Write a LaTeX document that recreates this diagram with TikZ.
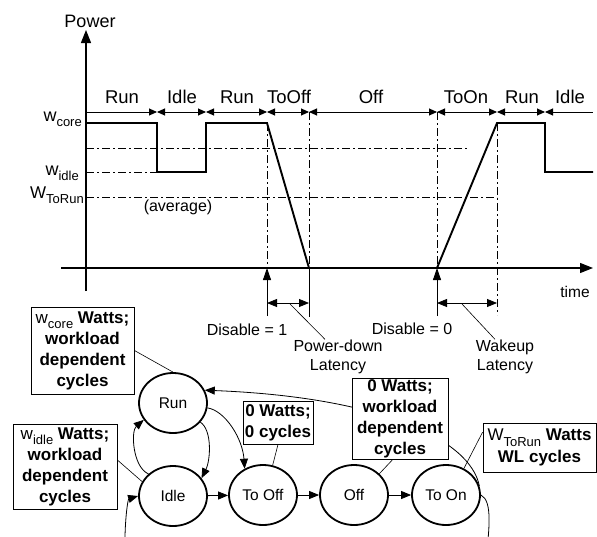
\documentclass[tikz,border=0pt]{standalone}
\usepackage{fontspec}
\setmainfont{Liberation Sans}
\usetikzlibrary{arrows.meta,shapes.geometric}
\newcommand{\wsub}[3]{{\mdseries\fontsize{#1}{#1}\selectfont #2}\raisebox{-5.5pt}{\mdseries\fontsize{13}{13}\selectfont #3}}
\begin{document}
\begin{tikzpicture}[x=1pt,y=-1pt,
  >={Triangle[length=10pt,width=8pt]},
  thinln/.style={line width=0.8pt},
  ax/.style={line width=1.1pt,-{Triangle[length=13pt,width=10pt]}},
  pw/.style={line width=1.9pt,line join=miter},
  dd/.style={line width=0.9pt,dash pattern=on 8pt off 3pt on 2pt off 3pt},
  barln/.style={line width=0.9pt},
  phase/.style={anchor=base,inner sep=0pt,font=\fontsize{18.5}{18.5}\selectfont},
  lbl/.style={inner sep=0pt,align=center,font=\fontsize{16}{19}\selectfont},
  state/.style={ellipse,draw,line width=1.8pt,minimum width=68pt,minimum height=60pt,inner sep=0pt,font=\fontsize{15.5}{15.5}\selectfont},
  note/.style={draw,fill=white,line width=0.9pt,inner sep=0pt,align=center,font=\bfseries\fontsize{17}{21}\selectfont},
  lead/.style={line width=0.6pt},
  trans/.style={line width=0.8pt,->},
]
\fill[white] (0,0) rectangle (597,536);
\useasboundingbox (0,0) rectangle (597,536);
\clip (0,0) rectangle (597,536);

% axes
\coordinate (yb) at (86,291); \coordinate (yt) at (86,30);
\coordinate (xl) at (61,268); \coordinate (xr) at (593,268);
\draw[ax] (yb) -- (yt);
\draw[ax] (xl) -- (xr);
\node[anchor=base,inner sep=0pt,font=\fontsize{18}{18}\selectfont] (power) at (90,27) {Power};
\node[lbl,font=\fontsize{15.5}{15.5}\selectfont] (time) at (575,292) {time};

% phase bar
\draw[barln,-{Triangle[length=8pt,width=7pt]}] (86,112) -- (157,112);
\foreach \a/\b in {157/206,206/267,267/309,309/437,437/497,497/545}
  \draw[barln,{Triangle[length=8pt,width=7pt]}-{Triangle[length=8pt,width=7pt]}] (\a,112) -- (\b,112);
\draw[barln,{Triangle[length=8pt,width=7pt]}-] (545,112) -- (593,112);
\node[phase] (p1) at (122,103) {Run};
\node[phase] (p2) at (182,103) {Idle};
\node[phase] (p3) at (237,103) {Run};
\node[phase] (p4) at (289,103) {ToOff};
\node[phase] (p5) at (371,103) {Off};
\node[phase] (p6) at (466,103) {ToOn};
\node[phase] (p7) at (522,103) {Run};
\node[phase] (p8) at (570,103) {Idle};

% level labels
\node[anchor=base east,inner sep=0pt] (lcore) at (82,121) {\wsub{18}{w}{core}};
\node[anchor=base east,inner sep=0pt] (lidle) at (79,175) {\wsub{18}{w}{idle}};
\node[anchor=base east,inner sep=0pt] (ltorun) at (84,198) {\wsub{17}{W}{ToRun}};

% dash-dot guides
\draw[dd] (86,148) -- (467,148);
\draw[dd] (86,172) -- (157,172);
\draw[dd] (86,197) -- (497,197);
\draw[dd] (267,123) -- (267,268);
\draw[dd] (309,112) -- (309,268);
\draw[dd] (437,112) -- (437,268);
\draw[dd] (497,123) -- (497,315);

% power curve
\draw[pw] (86,123) -- (157,123) -- (157,172) -- (206,172) -- (206,123) -- (267,123)
  -- (309,268) -- (437,268) -- (497,123) -- (545,123) -- (545,172) -- (593,172);
\node[lbl] (avg) at (178,207) {(average)};

% below axis
\draw[thinln,-{Triangle[length=12pt,width=8pt]}] (267,316) -- (267,268);
\draw[thinln] (309,268) -- (309,317);
\draw[thinln,-{Triangle[length=12pt,width=8pt]}] (437,316) -- (437,268);
\draw[thinln,{Triangle[length=10pt,width=8pt]}-{Triangle[length=10pt,width=8pt]}] (267,303) -- (309,303);
\draw[thinln,{Triangle[length=10pt,width=8pt]}-{Triangle[length=10pt,width=8pt]}] (437,303) -- (497,303);
\node[lbl] (dis1) at (247,330) {Disable = 1};
\node[lbl] (dis0) at (412,329) {Disable = 0};
\node[lbl] (pdl) at (338,356.5) {Power-down\\Latency};
\node[lbl] (wkl) at (505,356.5) {Wakeup\\Latency};
\coordinate (pdm) at (290,304);
\coordinate (wkm) at (462,304);
\draw[lead] (pdm) -- ([xshift=-13pt]pdl.north);
\draw[lead] (wkm) -- ([xshift=-10pt]wkl.north);

% state diagram
\node[state] (Run) at (173,403) {Run};
\node[state] (Idle) at (173,496) {Idle};
\node[state] (ToOff) at (263,495) {To Off};
\node[state] (Off) at (354,495) {Off};
\node[state] (ToOn) at (446,495) {To On};

\draw[trans] (Idle) -- (ToOff);
\draw[trans] (ToOff) -- (Off);
\draw[trans] (Off) -- (ToOn);
\draw[trans] (Run.-35) .. controls +(12,8) and +(9,-18) .. (Idle.32);
\draw[trans] (Idle.138) .. controls +(-16,-7) and +(-13,11) .. (Run.210);
\draw[trans] (Run.-8) .. controls +(18,3) and +(-2,-30) .. (ToOff.125);
\draw[trans] (ToOn.15) .. controls +(-9,-46) and +(178,7) .. (Run.22);
\coordinate (lr) at (486,560);
\coordinate (ll) at (125,560);
\draw[trans] (ToOn.east) .. controls +(12,6) and +(3,-30) .. (lr)
  .. controls +(0,40) and +(0,40) .. (ll)
  .. controls +(-1,-40) and +(-10,3) .. (Idle.west);

% notes
\node[note,minimum width=103pt,minimum height=87pt] (RunBox) at (82.5,350.5)
  {\wsub{17}{w}{core} Watts;\\workload\\dependent\\cycles};
\node[note,minimum width=104pt,minimum height=85pt] (IdleBox) at (65,466.5)
  {\wsub{17}{w}{idle} Watts;\\workload\\dependent\\cycles};
\node[note,minimum width=70pt,minimum height=43pt] (ToOffBox) at (278,422.5)
  {0 Watts;\\0 cycles};
\node[note,minimum width=96pt,minimum height=81pt] (OffBox) at (400,418.5)
  {0 Watts;\\workload\\dependent\\cycles};
\node[note,minimum width=113pt,minimum height=49pt,font=\bfseries\fontsize{17}{22}\selectfont] (ToOnBox) at (539.5,447.5)
  {\wsub{17}{W}{ToRun} Watts\\WL cycles};

\draw[lead] (RunBox.east) -- (Run.north);
\draw[lead] (IdleBox.7) -- (Idle.155);
\draw[lead] (ToOffBox.south) -- (ToOff.72);
\draw[lead] (OffBox.-100) -- (Off.40);
\draw[lead] (ToOnBox.165) -- (ToOn.56);
\end{tikzpicture}
\end{document}
